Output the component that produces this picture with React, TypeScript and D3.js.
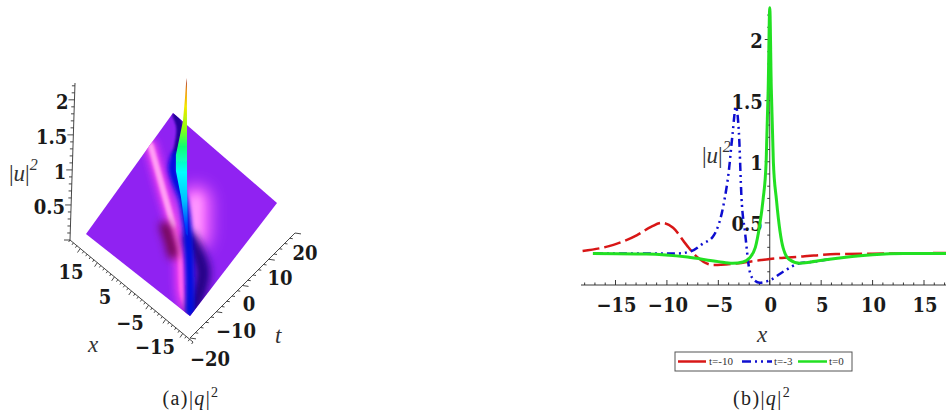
import React from "react";
import * as d3 from "d3";

// ---------- panel (b) data ----------
const greenX = [-17.2,-12,-8,-5,-3.6,-2.6,-2,-1.4,-1,-0.65,-0.35,-0.15,0,0.15,0.35,0.65,1,1.3,1.9,2.9,4,6,8,10,13,17.8];
const greenY = [0.25,0.245,0.22,0.183,0.17,0.18,0.21,0.3,0.47,0.69,1,1.6,2.26,1.6,1,0.69,0.43,0.295,0.2,0.17,0.18,0.205,0.225,0.24,0.25,0.25];
const redX = [-18.2,-15.2,-12.9,-11.5,-10.5,-9.4,-8.1,-7.1,-5.5,-3.6,-1.3,0,3.2,6.5,13,17.8];
const redY = [0.27,0.32,0.4,0.47,0.5,0.46,0.32,0.224,0.155,0.165,0.19,0.205,0.225,0.245,0.25,0.255];
const blueX = [-17,-12,-9,-7.6,-6.5,-5.5,-4.4,-4,-3.6,-3.3,-3,-2.75,-2.4,-1.94,-1.5,-0.97,0,1.3,2.9,4,6];
const blueY = [0.25,0.25,0.25,0.27,0.33,0.39,0.69,0.91,1.24,1.45,1.24,0.71,0.42,0.1,0.03,0.01,0.03,0.1,0.17,0.18,0.205];
const xTickValues = [-15,-10,-5,0,5,10,15];
const yTickValues = [0.5,1,1.5,2];
const legendLabels = ["t=-10","t=-3","t=0"];

// ---------- panel (a) data: (x, t) on the surface, z for the spike ----------
const zTickValues = [0.5,1,1.5,2];
const xLabels3d = [15,5,-5,-15];
const tLabels3d = [20,10,0,-10,-20];
const pinkStreakX = [18,8.2,0.4,-6.6,-12.5,-17.1];
const pinkStreakT = [9.6,2.4,-3.35,-9.4,-16.3,-19.7];
const blueRidgeX = [10.9,9.4,2.2,-4.5,-11.5,-17.5];
const blueRidgeT = [11.9,8.5,3.7,-3,-11.4,-19.3];
const indigoX = [-5.4,-13.5,-17.6];
const indigoT = [-3.3,-8,-18.2];
const maroonX = [2,-1.6,-4.2];
const maroonT = [-5,-7.4,-9.5];
const glowX = [-0.5,-6];
const glowT = [6,-1.5];
const navyX = [17,14.2,10.9];
const navyT = [20,18.1,11.9];
const spikeX = [-1.4,-1,-1.7,-4.5,-3.7,3.2,8.4,10.9,8.7,6.5,3.2,-1.5];
const spikeT = [0.6,1.2,0.3,-3,-2.9,4,8.6,11.9,10.4,9.3,5.9,0.1];
const spikeZ = [2.25,1.5,0.7,0.25,0.25,0.25,0.25,0.25,0.6,1,1.6,2.2];
const spikeOffsets = [0,0.05,0.12,0.22,0.3,0.42,0.55,0.66,0.8,1];
const spikeColors = ["#a02010","#f09000","#f4e800","#90ff10","#10ff70","#00ffff","#00c0ff","#0040ff","#0000c0","#000070"];

// ---------- scales ----------
const sx = d3.scaleLinear().domain([-15,15]).range([615.5,924]);
const sy = d3.scaleLinear().domain([0,2]).range([284,39.5]);
const sS = d3.scaleLinear().domain([-18,18]).range([0,1]);
const sU = d3.scaleLinear().domain([-20,20]).range([0,1]);
const zLift = d3.scaleLinear().domain([0.25,2.25]).range([0,140]);
const proj = (x:number,t:number,z=0.25):[number,number] => {
  const s=sS(x), u=sU(t);
  return [190-104*s+87*u, 316-82*s-113*u-8*s*u-zLift(z)];
};
const xAxis3d = { a:[193,342], b:[70,240] };
const tAxis3d = { a:[190,338], b:[295,233] };
const zAxis3d = { a:[70,240], b:[75,83] };
const axisS = d3.scaleLinear().domain([-18,18]).range([0,1]);
const axisT = d3.scaleLinear().domain([-20,20]).range([0,1]);
const axisZ = d3.scaleLinear().domain([0,2.24]).range([0,1]);
const xLabelX = d3.scaleLinear().domain([-15,-5,5,15]).range([155,130,105,71]);
const xLabelY = d3.scaleLinear().domain([-15,-5,5,15]).range([354,330,304,279]);
const tLabelX = d3.scaleLinear().domain([-20,-10,0,10,20]).range([210,236,249,280,305]);
const tLabelY = d3.scaleLinear().domain([-20,-10,0,10,20]).range([366,338,311,285,260]);
const lerp = (ax:{a:number[],b:number[]},k:number):[number,number] => [ax.a[0]+(ax.b[0]-ax.a[0])*k, ax.a[1]+(ax.b[1]-ax.a[1])*k];

const line = d3.line<[number,number]>().x(d=>sx(d[0])).y(d=>sy(d[1])).curve(d3.curveMonotoneX);
const zip = (a:number[],b:number[]) => a.map((v,i)=>[v,b[i]] as [number,number]);
const surf = d3.line<[number,number]>().x(d=>proj(d[0],d[1])[0]).y(d=>proj(d[0],d[1])[1]).curve(d3.curveCatmullRom);

const serif = "'Times New Roman', Times, 'Liberation Serif', serif";
const heavy = "'DejaVu Serif Condensed', 'DejaVu Serif', serif";
const minus = (v:number) => v<0 ? `\u2212${-v}` : `${v}`;

function Blur({id,sd}:{id:string,sd:number}) {
  return <filter id={id} filterUnits="userSpaceOnUse" x={0} y={0} width={946} height={417}><feGaussianBlur stdDeviation={sd}/></filter>;
}

function Caption({x,y,label}:{x:number,y:number,label:string}) {
  return <text x={x} y={y} textAnchor="middle" fontFamily={serif} fontSize={20} letterSpacing={1.4} fill="#222">
    {label}|<tspan fontStyle="italic">q</tspan>|<tspan dy={-8} fontSize={14}>2</tspan>
  </text>;
}

export default function App() {
  const corners = [proj(-18,-20),proj(18,-20),proj(18,20),proj(-18,20)];
  const spike = spikeX.map((x,i)=>proj(x,spikeT[i],spikeZ[i]));
  const xMinor = d3.range(-18,18.01,1);
  const tMinor = d3.range(-20,20.01,2);
  const zMinor = d3.range(0,2.21,0.1);
  const xMinorB = d3.range(-18,19,1);
  const yMinorB = d3.range(0.1,2.21,0.1);
  const legendY = 361.5;
  return (
    <svg width={946} height={417} style={{position:"absolute",left:0,top:0,background:"#fff"}}>
      <defs>
        <Blur id="b1" sd={1}/>
        <Blur id="b2" sd={2.2}/>
        <Blur id="b3" sd={4}/>
        <Blur id="b4" sd={8}/>
        <Blur id="soft" sd={0.5}/>
        <clipPath id="surfaceClip"><polygon points={corners.map(c=>c.join(",")).join(" ")}/></clipPath>
        <linearGradient id="spikeGrad" gradientUnits="userSpaceOnUse" x1={0} x2={0} y1={80} y2={300}>
          {spikeOffsets.map((o,i)=><stop key={i} offset={o} stopColor={spikeColors[i]}/>)}
        </linearGradient>
      </defs>

      {/* panel (a) surface */}
      <polygon points={corners.map(c=>c.join(",")).join(" ")} fill="#9020f2" filter="url(#soft)"/>
      <g clipPath="url(#surfaceClip)" fill="none" strokeLinecap="round">
        <path d={surf(zip(glowX,glowT))!} stroke="#ff70ff" strokeWidth={30} filter="url(#b4)"/>
        <path d={surf(zip(glowX,glowT))!} stroke="#ffa0ff" strokeWidth={10} filter="url(#b3)"/>
        <path d={surf(zip(pinkStreakX,pinkStreakT))!} stroke="#ff40f0" strokeWidth={11} filter="url(#b3)"/>
        <path d={surf(zip(pinkStreakX,pinkStreakT))!} stroke="#ff60f0" strokeWidth={5} filter="url(#b1)"/>
        <path d={surf(zip(pinkStreakX.slice(0,3),pinkStreakT.slice(0,3)))!} stroke="#ffc0f8" strokeWidth={4} filter="url(#b2)"/>
        <path d={surf(zip(maroonX,maroonT))!} stroke="#6a0040" strokeWidth={10} filter="url(#b3)"/>
        <path d={surf(zip(indigoX,indigoT))!} stroke="#1a0080" strokeWidth={14} filter="url(#b3)"/>
        <path d={surf(zip(navyX,navyT))!} stroke="#20009a" strokeWidth={7} filter="url(#b1)"/>
        <path d={surf(zip(blueRidgeX,blueRidgeT))!} stroke="#0010e0" strokeWidth={9} filter="url(#b2)"/>
      </g>
      <polygon points={spike.map(c=>c.join(",")).join(" ")} fill="url(#spikeGrad)" filter="url(#soft)"/>

      {/* panel (a) axes */}
      <g stroke="#333" strokeWidth={0.9} fill="none">
        <line x1={xAxis3d.a[0]} y1={xAxis3d.a[1]} x2={xAxis3d.b[0]} y2={xAxis3d.b[1]}/>
        <line x1={tAxis3d.a[0]} y1={tAxis3d.a[1]} x2={tAxis3d.b[0]} y2={tAxis3d.b[1]}/>
        <line x1={zAxis3d.a[0]} y1={zAxis3d.a[1]} x2={zAxis3d.b[0]} y2={zAxis3d.b[1]}/>
        {xMinor.map(v=>{const p=lerp(xAxis3d,axisS(v)); const L=(Math.round(v)+18)%5===3?5:2.5; return <line key={v} x1={p[0]} y1={p[1]} x2={p[0]-L*0.55} y2={p[1]+L*0.8}/>;})}
        {tMinor.map(v=>{const p=lerp(tAxis3d,axisT(v)); const L=Math.round(v)%10===0?6:3; return <line key={v} x1={p[0]} y1={p[1]} x2={p[0]+L} y2={p[1]+L*0.15}/>;})}
        {zMinor.map((v,i)=>{const p=lerp(zAxis3d,axisZ(v)); const L=i%5===0?6:3; return <line key={i} x1={p[0]} y1={p[1]} x2={p[0]-L} y2={p[1]}/>;})}
      </g>
      <g fontFamily={heavy} fontWeight="bold" fontSize={20} fill="#1a1a1a">
        {zTickValues.map(v=>{const p=lerp(zAxis3d,axisZ(v)); return <text key={v} x={p[0]-6} y={p[1]+9.5} textAnchor="end">{v}</text>;})}
        {xLabels3d.map(v=><text key={v} x={xLabelX(v)} y={xLabelY(v)} textAnchor="middle">{minus(v)}</text>)}
        {tLabels3d.map(v=><text key={v} x={tLabelX(v)} y={tLabelY(v)} textAnchor="middle">{minus(v)}</text>)}
      </g>
      <g fontFamily={serif} fill="#333" fontSize={23}>
        <text x={9} y={181}>|<tspan fontStyle="italic">u</tspan>|<tspan dy={-11} fontSize={16} fontStyle="italic">2</tspan></text>
        <text x={88} y={352} fontStyle="italic">x</text>
        <text x={275} y={343} fontStyle="italic">t</text>
      </g>
      <Caption x={191} y={405} label="(a)"/>

      {/* panel (b) axes */}
      <g stroke="#222" strokeWidth={0.9}>
        <line x1={581} y1={285} x2={946} y2={285}/>
        <line x1={sx(0)} y1={8} x2={sx(0)} y2={285}/>
        {xMinorB.map(v=><line key={v} x1={sx(v)} y1={285} x2={sx(v)} y2={v%5===0?280:282.5}/>)}
        {yMinorB.map((v,i)=><line key={i} x1={sx(0)} y1={sy(v)} x2={sx(0)-((i+1)%5===0?5:2.5)} y2={sy(v)}/>)}
      </g>
      <g fontFamily={heavy} fontWeight="bold" fontSize={20} fill="#1a1a1a">
        {xTickValues.map(v=><text key={v} x={sx(v)+1} y={312} textAnchor="middle">{minus(v)}</text>)}
        {yTickValues.map(v=><text key={v} x={sx(0)-7} y={sy(v)+8.5} textAnchor="end">{v}</text>)}
      </g>
      <g fontFamily={serif} fill="#333" fontSize={23}>
        <text x={702} y={163}>|<tspan fontStyle="italic">u</tspan>|<tspan dy={-11} fontSize={16} fontStyle="italic">2</tspan></text>
        <text x={757} y={342} fontStyle="italic">x</text>
      </g>

      {/* panel (b) curves */}
      <g fill="none" filter="url(#soft)">
        <path d={line(zip(redX,redY))!} stroke="#d81818" strokeWidth={2.5} strokeDasharray="17 5"/>
        <path d={line(zip(blueX,blueY))!} stroke="#1010d0" strokeWidth={2.5} strokeDasharray="8 4 2 4 2 4"/>
        <path d={line(zip(greenX,greenY))!} stroke="#22e022" strokeWidth={3}/>
      </g>

      {/* legend */}
      <rect x={675} y={352} width={177} height={19} fill="#fff" stroke="#555" strokeWidth={1}/>
      <g strokeWidth={2.5} fill="none">
        <line x1={678} x2={706} y1={legendY} y2={legendY} stroke="#d81818"/>
        <line x1={742} x2={772} y1={legendY} y2={legendY} stroke="#1010d0" strokeDasharray="9 4 2 4 2 4"/>
        <line x1={798} x2={827} y1={legendY} y2={legendY} stroke="#22e022"/>
      </g>
      <g fontFamily={serif} fontSize={11} fill="#333">
        <text x={709} y={365}>{legendLabels[0]}</text>
        <text x={774} y={365}>{legendLabels[1]}</text>
        <text x={829} y={365}>{legendLabels[2]}</text>
      </g>
      <Caption x={762} y={405} label="(b)"/>
    </svg>
  );
}
